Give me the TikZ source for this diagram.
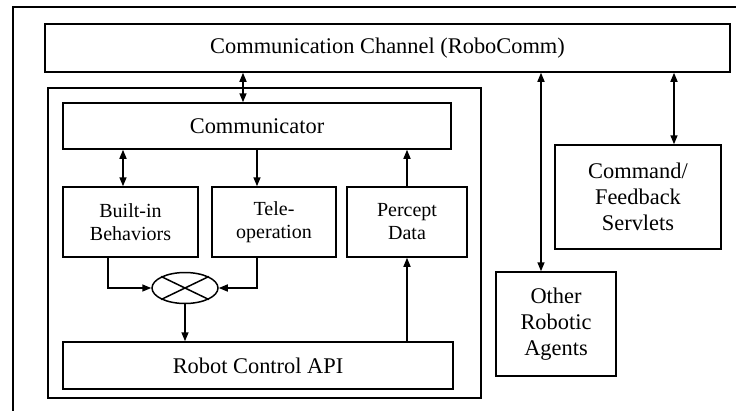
\documentclass[tikz,border=0pt]{standalone}
\usepackage{fontspec}
\setmainfont{Liberation Serif}
\usetikzlibrary{arrows.meta,shapes.geometric}
\begin{document}
\begin{tikzpicture}[x=1pt,y=-1pt,line width=1.5pt,>={Triangle[length=9pt,width=7pt]}]
  \tikzstyle{every node}=[font=\fontsize{22.4}{26}\selectfont,inner sep=0pt,align=center]
  \tikzstyle{box}=[draw,line width=1.5pt]
  \tikzstyle{small}=[font=\fontsize{20}{23}\selectfont]
  \useasboundingbox (0,0) rectangle (736,410);
  \draw (13,420) -- (13,7) -- (745,7);
  \node [box,minimum width=685pt,minimum height=48pt] (chan) at (387.5,48) {Communication Channel (RoboComm)};
  % robot side
  \node [box,minimum width=433pt,minimum height=310pt] (robot) at (264.5,243) {};
  \node [box,minimum width=388pt,minimum height=46pt] (comm) at (257,126) {Communicator};
  \node [box,small,minimum width=135pt,minimum height=70pt] (beh) at (130.5,222) {Built-in\\Behaviors};
  \node [box,small,minimum width=124pt,minimum height=70pt] (tele) at (274,222) {Tele-\\operation};
  \node [box,small,minimum width=120pt,minimum height=70pt] (perc) at (407,222) {Percept\\Data};
  \node [draw,ellipse,minimum width=66pt,minimum height=31pt] (mix) at (185,288) {};
  \draw (mix.north west) -- (mix.south east);
  \draw (mix.south west) -- (mix.north east);
  \node [box,minimum width=390pt,minimum height=47pt] (api) at (258,365.5) {Robot Control API};
  % other side
  \node [box,minimum width=166pt,minimum height=104pt] (cmd) at (638,197) {Command/\\Feedback\\Servlets};
  \node [box,minimum width=120pt,minimum height=104pt] (other) at (556,324) {Other\\Robotic\\Agents};
  \draw [<->] ([xshift=-144.5pt]chan.south) -- ([xshift=-14pt]comm.north);
  \draw [<->] ([xshift=-134pt]comm.south) -- ([xshift=-7.5pt]beh.north);
  \draw [->] (comm.south) -- (comm.south |- tele.north);
  \draw [->] (perc.north) -- (perc.north |- comm.south);
  \draw [->] ([xshift=-22.5pt]beh.south) |- (mix.west);
  \draw [->] ([xshift=-17pt]tele.south) |- (mix.east);
  \draw [->] (mix.south) -- (mix.south |- api.north);
  \draw [->] (api.north -| perc.south) -- (perc.south);
  \draw [<->] ([xshift=153.5pt]chan.south) -- ([xshift=-15pt]other.north);
  \draw [<->] ([xshift=286.5pt]chan.south) -- ([xshift=36pt]cmd.north);
\end{tikzpicture}
\end{document}
